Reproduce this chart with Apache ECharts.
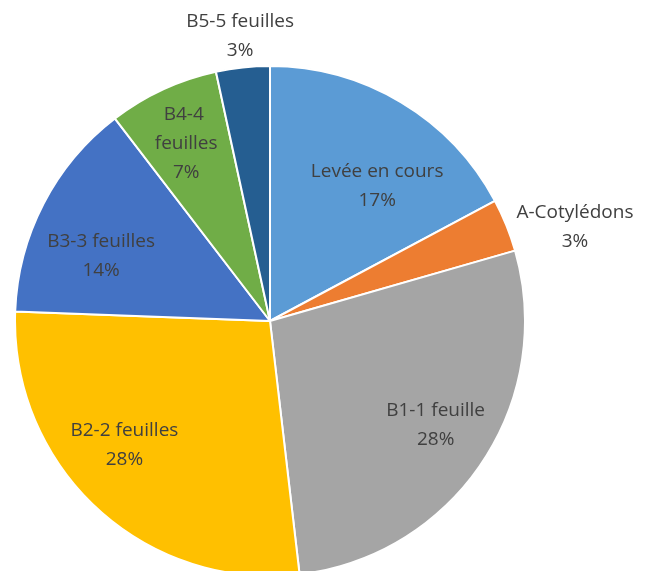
<!DOCTYPE html>
<html>
<head>
<meta charset="utf-8">
<script src="https://cdn.jsdelivr.net/npm/echarts@6/dist/echarts.min.js"></script>
<style>
  html, body { margin: 0; padding: 0; background: #ffffff; }
  #chart { width: 656px; height: 571px; }
</style>
</head>
<body>
<div id="chart"></div>
<script>
// Data
const categories = ['Levée en cours', 'A-Cotylédons', 'B1-1 feuille', 'B2-2 feuilles', 'B3-3 feuilles', 'B4-4 feuilles', 'B5-5 feuilles'];
const values = [17.2, 3.35, 27.6, 27.45, 14, 7, 3.4];

// Styles (kept separate from data)
const colors = ['#5B9BD5', '#ED7D31', '#A5A5A5', '#FFC000', '#4472C4', '#70AD47', '#255E91'];
const labelOffsets = [[40, -23], [184, -45], [57, 32], [-57, 28], [-53, -5], [-29, -59], [-16, -155]];
const labelWidths = [null, null, null, null, null, 80, null];

const chart = echarts.init(document.getElementById('chart'), null, { renderer: 'canvas' });

const seriesData = categories.map((name, i) => {
  const item = {
    name: name,
    value: values[i],
    itemStyle: { color: colors[i] },
    label: { offset: labelOffsets[i] }
  };
  if (labelWidths[i]) {
    item.label.width = labelWidths[i];
    item.label.overflow = 'break';
  }
  return item;
});

chart.setOption({
  animation: false,
  backgroundColor: '#ffffff',
  series: [{
    type: 'pie',
    center: [270, 321],
    radius: [0, 255],
    startAngle: 90,
    clockwise: true,
    percentPrecision: 0,
    avoidLabelOverlap: false,
    itemStyle: { borderColor: '#ffffff', borderWidth: 2 },
    label: {
      show: true,
      position: 'inside',
      formatter: '{b}\n{d}%',
      color: '#404040',
      fontFamily: 'Open Sans',
      fontSize: 19,
      lineHeight: 29,
      align: 'center'
    },
    labelLine: { show: false },
    emphasis: { disabled: true },
    data: seriesData
  }]
});
</script>
</body>
</html>
